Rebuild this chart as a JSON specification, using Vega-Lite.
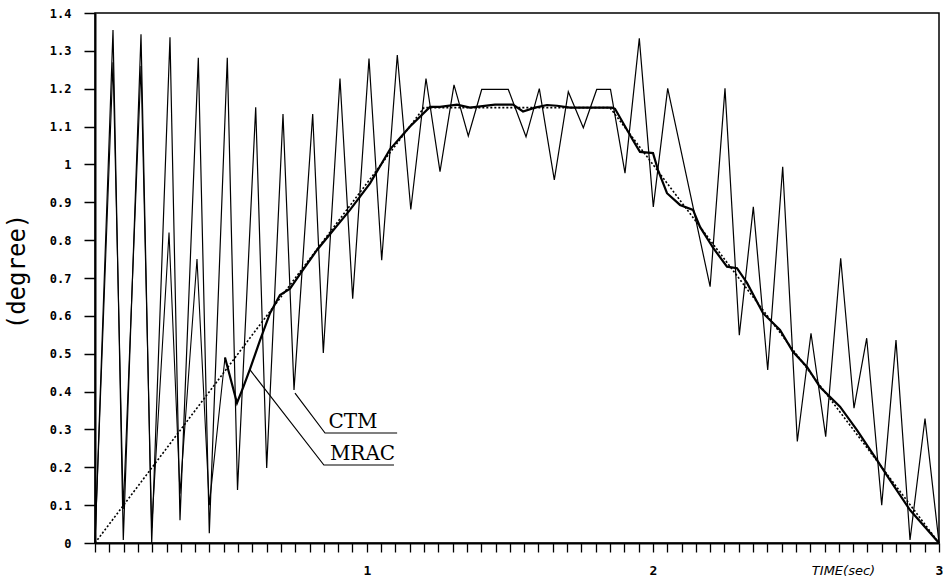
{
  "$schema": "https://vega.github.io/schema/vega-lite/v6.json",
  "width": 844,
  "height": 530,
  "autosize": {"type": "none"},
  "padding": {"left": 95, "top": 13, "right": 4, "bottom": 41},
  "background": "white",
  "config": {
    "view": {"stroke": "black", "strokeWidth": 1.5},
    "axis": {"grid": false, "domainColor": "black", "tickColor": "black", "labelColor": "black", "titleColor": "black"}
  },
  "datasets": {
    "ref": [
      {"t": 0.05, "v": 0}, {"t": 1.2, "v": 1.15}, {"t": 1.85, "v": 1.15}, {"t": 3.0, "v": 0}
    ],
    "ctm": [
      {"t": 0.05, "v": 0}, {"t": 0.1129, "v": 1.355}, {"t": 0.1489, "v": 0.008}, {"t": 0.2108, "v": 1.344},
      {"t": 0.2482, "v": 0.0}, {"t": 0.3121, "v": 1.336}, {"t": 0.3471, "v": 0.06}, {"t": 0.4111, "v": 1.282},
      {"t": 0.4495, "v": 0.026}, {"t": 0.5124, "v": 1.282}, {"t": 0.5481, "v": 0.14}, {"t": 0.6117, "v": 1.151},
      {"t": 0.6501, "v": 0.198}, {"t": 0.7071, "v": 1.133}, {"t": 0.7456, "v": 0.404}, {"t": 0.8109, "v": 1.133},
      {"t": 0.848, "v": 0.502}, {"t": 0.9063, "v": 1.227}, {"t": 0.9507, "v": 0.645}, {"t": 1.0077, "v": 1.28},
      {"t": 1.0521, "v": 0.747}, {"t": 1.1066, "v": 1.289}, {"t": 1.1538, "v": 0.881}, {"t": 1.2069, "v": 1.227},
      {"t": 1.2559, "v": 0.981}, {"t": 1.3048, "v": 1.21}, {"t": 1.3548, "v": 1.075}, {"t": 1.4016, "v": 1.198},
      {"t": 1.4946, "v": 1.198}, {"t": 1.5565, "v": 1.073}, {"t": 1.603, "v": 1.2}, {"t": 1.6554, "v": 0.959},
      {"t": 1.7043, "v": 1.192}, {"t": 1.7568, "v": 1.097}, {"t": 1.8036, "v": 1.198}, {"t": 1.8518, "v": 1.198},
      {"t": 1.9025, "v": 0.977}, {"t": 1.9525, "v": 1.333}, {"t": 2.0014, "v": 0.888}, {"t": 2.0517, "v": 1.201},
      {"t": 2.2, "v": 0.677}, {"t": 2.252, "v": 1.201}, {"t": 2.302, "v": 0.549}, {"t": 2.351, "v": 0.888},
      {"t": 2.4013, "v": 0.457}, {"t": 2.4537, "v": 0.994}, {"t": 2.5048, "v": 0.268}, {"t": 2.5526, "v": 0.554},
      {"t": 2.604, "v": 0.281}, {"t": 2.6564, "v": 0.752}, {"t": 2.7029, "v": 0.356}, {"t": 2.7473, "v": 0.541},
      {"t": 2.7998, "v": 0.1}, {"t": 2.8497, "v": 0.536}, {"t": 2.8987, "v": 0.008}, {"t": 2.9511, "v": 0.329},
      {"t": 3.0, "v": 0.0}
    ],
    "mracEarly": [
      {"t": 0.05, "v": 0}, {"t": 0.1129, "v": 1.27}, {"t": 0.1489, "v": 0.09}, {"t": 0.2108, "v": 1.26},
      {"t": 0.2482, "v": 0.04}, {"t": 0.3087, "v": 0.82}, {"t": 0.3471, "v": 0.13}, {"t": 0.4065, "v": 0.75},
      {"t": 0.4495, "v": 0.1}, {"t": 0.5044, "v": 0.49}
    ],
    "mrac": [
      {"t": 0.5044, "v": 0.49}, {"t": 0.5463, "v": 0.37}, {"t": 0.5673, "v": 0.41},
      {"t": 0.592, "v": 0.46}, {"t": 0.6267, "v": 0.535}, {"t": 0.6617, "v": 0.607}, {"t": 0.6966, "v": 0.655},
      {"t": 0.7316, "v": 0.672}, {"t": 0.7665, "v": 0.71}, {"t": 0.826, "v": 0.774}, {"t": 0.9413, "v": 0.88},
      {"t": 1.0112, "v": 0.95}, {"t": 1.0811, "v": 1.04}, {"t": 1.151, "v": 1.1}, {"t": 1.2209, "v": 1.152},
      {"t": 1.2559, "v": 1.152}, {"t": 1.3153, "v": 1.158}, {"t": 1.3607, "v": 1.15}, {"t": 1.4481, "v": 1.158},
      {"t": 1.511, "v": 1.158}, {"t": 1.546, "v": 1.14}, {"t": 1.5879, "v": 1.15}, {"t": 1.6299, "v": 1.157},
      {"t": 1.6648, "v": 1.155}, {"t": 1.7103, "v": 1.15}, {"t": 1.8571, "v": 1.15}, {"t": 1.8676, "v": 1.147},
      {"t": 1.9304, "v": 1.064}, {"t": 1.9549, "v": 1.033}, {"t": 2.0004, "v": 1.03}, {"t": 2.0179, "v": 0.985},
      {"t": 2.0493, "v": 0.924}, {"t": 2.0948, "v": 0.893}, {"t": 2.1402, "v": 0.88}, {"t": 2.1647, "v": 0.835},
      {"t": 2.2101, "v": 0.78}, {"t": 2.259, "v": 0.73}, {"t": 2.294, "v": 0.726}, {"t": 2.3289, "v": 0.687},
      {"t": 2.3849, "v": 0.607}, {"t": 2.4443, "v": 0.563}, {"t": 2.4897, "v": 0.505}, {"t": 2.5387, "v": 0.465},
      {"t": 2.5841, "v": 0.412}, {"t": 2.654, "v": 0.36}, {"t": 2.7134, "v": 0.298}, {"t": 2.7833, "v": 0.219},
      {"t": 2.8288, "v": 0.166}, {"t": 2.8987, "v": 0.087}, {"t": 3.0, "v": 0.0}
    ],
    "leaders": [
      {"label": "CTM", "t": 0.749, "v": 0.396}, {"label": "CTM", "t": 0.854, "v": 0.2906}, {"label": "CTM", "t": 1.106, "v": 0.2906},
      {"label": "MRAC", "t": 0.592, "v": 0.457}, {"label": "MRAC", "t": 0.85, "v": 0.206}, {"label": "MRAC", "t": 1.095, "v": 0.206}
    ],
    "labels": [
      {"label": "CTM", "t": 0.866, "v": 0.304},
      {"label": "MRAC", "t": 0.871, "v": 0.219}
    ]
  },
  "encoding": {
    "x": {
      "field": "t", "type": "quantitative",
      "scale": {"domain": [0.05, 3], "nice": false, "zero": false},
      "axis": {
        "values": [0.05, 0.1, 0.15, 0.2, 0.25, 0.3, 0.35, 0.4, 0.45, 0.5, 0.55, 0.6, 0.65, 0.7, 0.75, 0.8, 0.85, 0.9, 0.95, 1,
                   1.05, 1.1, 1.15, 1.2, 1.25, 1.3, 1.35, 1.4, 1.45, 1.5, 1.55, 1.6, 1.65, 1.7, 1.75, 1.8, 1.85, 1.9, 1.95, 2,
                   2.05, 2.1, 2.15, 2.2, 2.25, 2.3, 2.35, 2.4, 2.45, 2.5, 2.55, 2.6, 2.65, 2.7, 2.75, 2.8, 2.85, 2.9, 2.95, 3],
        "labelExpr": "(datum.value === 1 || datum.value === 2 || datum.value === 3) ? format(datum.value, 'd') : ''",
        "labelFlush": false,
        "labelOverlap": false,
        "tickSize": 9,
        "tickWidth": 1.3,
        "domainWidth": 2,
        "labelPadding": 12,
        "labelFont": "DejaVu Sans Mono",
        "labelFontSize": 13,
        "labelFontWeight": "bold",
        "title": "TIME(sec)",
        "titleX": 748,
        "titleY": 21,
        "titleAlign": "center",
        "titleBaseline": "top",
        "titleFont": "DejaVu Sans",
        "titleFontSize": 13,
        "titleFontStyle": "italic",
        "titleFontWeight": "normal"
      }
    },
    "y": {
      "field": "v", "type": "quantitative",
      "scale": {"domain": [0, 1.4], "nice": false},
      "axis": {
        "values": [0, 0.1, 0.2, 0.3, 0.4, 0.5, 0.6, 0.7, 0.8, 0.9, 1, 1.1, 1.2, 1.3, 1.4],
        "format": "~g",
        "tickSize": 11,
        "tickWidth": 1.5,
        "domainWidth": 2,
        "labelPadding": 13,
        "labelFont": "DejaVu Sans Mono",
        "labelFontSize": 12,
        "labelFontWeight": "bold",
        "title": "(degree)",
        "titleFont": "DejaVu Sans Mono",
        "titleFontSize": 24,
        "titleFontWeight": "normal",
        "titleAngle": -90,
        "titleX": -78,
        "titleY": 258,
        "titleAlign": "center",
        "titleBaseline": "middle"
      }
    }
  },
  "layer": [
    {
      "data": {"name": "ref"},
      "mark": {"type": "line", "color": "black", "strokeWidth": 1.6, "strokeDash": [2, 2]}
    },
    {
      "data": {"name": "ctm"},
      "mark": {"type": "line", "color": "black", "strokeWidth": 1.2}
    },
    {
      "data": {"name": "mracEarly"},
      "mark": {"type": "line", "color": "black", "strokeWidth": 1.1}
    },
    {
      "data": {"name": "mrac"},
      "mark": {"type": "line", "color": "black", "strokeWidth": 2.2}
    },
    {
      "data": {"name": "leaders"},
      "mark": {"type": "line", "color": "black", "strokeWidth": 1.2},
      "encoding": {"detail": {"field": "label"}}
    },
    {
      "data": {"name": "labels"},
      "mark": {"type": "text", "color": "black", "align": "left", "baseline": "alphabetic", "font": "DejaVu Serif", "fontSize": 20},
      "encoding": {"text": {"field": "label"}}
    }
  ]
}
